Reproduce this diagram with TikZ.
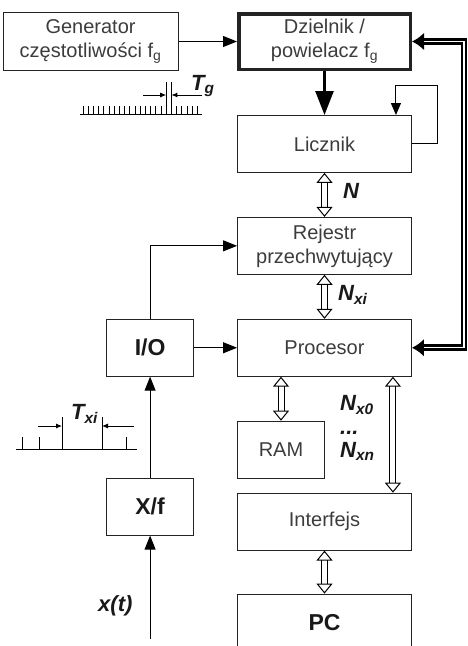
\documentclass[tikz,border=0pt]{standalone}
\usepackage{fontspec}
\setmainfont{Liberation Sans}
\usepackage{tikz}
\usetikzlibrary{arrows.meta, positioning, calc}
\usepackage{xcolor}
\definecolor{frameGray}{RGB}{35, 35, 35}
\definecolor{labelGray}{RGB}{60, 60, 60}

\begin{document}
\begin{tikzpicture}[
        x=1pt, y=-1pt,
        node distance=44pt,
        wideNode/.style={rectangle, draw=frameGray, line width=0.9pt, text=labelGray, minimum width=174pt, minimum height=57pt, inner sep=2pt, align=center, font=\fontsize{20}{24}\selectfont},
        smallNode/.style={rectangle, draw=frameGray, line width=0.9pt, text=black!90, minimum width=87pt, minimum height=57pt, inner sep=2pt, align=center, font=\fontsize{23}{27}\selectfont\bfseries},
        sigLabel/.style={inner sep=0pt, text=black!90, font=\fontsize{22}{23.5}\selectfont\bfseries\itshape},
        sigArrow/.style={line width=1pt, -{Triangle[length=14pt, width=11pt]}},
        busArrow/.style={double, double distance=5pt, line width=1pt, {Triangle[open, length=10pt, width=16pt, line width=1pt]}-{Triangle[open, length=10pt, width=16pt, line width=1pt]}},
        ctrlArrow/.style={double, double distance=1.2pt, line width=2.8pt, {Latex[length=12pt, width=18pt]}-{Latex[length=12pt, width=18pt]}},
        pulse/.style={line width=0.9pt}
    ]
    \useasboundingbox (0,0) rectangle (468,646);

    % main column
    \node[wideNode, line width=3.5pt, minimum width=171.5pt, minimum height=55.5pt] (dz) at (324.5,41.5) {Dzielnik /\\powielacz f\textsubscript{g}};
    \node[wideNode, left=58.5pt of dz, minimum width=175pt, minimum height=58pt] (gen) {Generator\\częstotliwości f\textsubscript{g}};
    \node[wideNode, below=44pt of dz] (lic) {Licznik};
    \node[wideNode, below=of lic] (rej) {Rejestr\\przechwytujący};
    \node[wideNode, below=of rej] (proc) {Procesor};
    \node[wideNode, minimum width=87pt, below right=44pt and 0pt of proc.south west] (ram) {RAM};
    \node[wideNode, below=116pt of proc] (intf) {Interfejs};
    \node[wideNode, below=43pt of intf, text=black!90, font=\fontsize{23}{27}\selectfont\bfseries] (pc) {PC};

    % input side
    \node[smallNode, left=43pt of proc] (io) {I/O};
    \node[smallNode, below=101pt of io] (xf) {X/f};
    \coordinate[below=103pt of xf.south] (xin);

    \draw[sigArrow] (gen) -- (dz);
    \draw[line width=2.5pt, -{Triangle[length=24pt, width=18pt]}] (dz) -- (lic);
    \draw[line width=1pt, -{Triangle[length=12pt, width=10pt]}] (lic.east) -| ++(26,-58) -| ([xshift=-16pt]lic.north east);
    \draw[ctrlArrow] (dz.east) -- ++(52,0) |- (proc.east);

    \draw[busArrow] (lic) -- (rej);
    \draw[busArrow] (rej) -- (proc);
    \draw[busArrow] (ram.north |- proc.south) -- (ram);
    \draw[busArrow] ([xshift=-19pt]proc.south east) -- ([xshift=-19pt]intf.north east);
    \draw[busArrow] (intf) -- (pc);

    \draw[sigArrow] (io.north) |- (rej.west);
    \draw[sigArrow] (io) -- (proc);
    \draw[sigArrow] (xf) -- (io);
    \draw[sigArrow] (xin) -- (xf);

    % labels
    \node[sigLabel, anchor=base west] (xt) at (98,611) {x(t)};
    \node[sigLabel, anchor=base west] (nLic) at (343,198) {N};
    \node[sigLabel, anchor=base west] (nRej) at (338,300) {N\textsubscript{xi}};
    \node[sigLabel, anchor=west, align=left] (nOut) at (340,428) {N\textsubscript{x0}\\...\\N\textsubscript{xn}};
    \node[sigLabel, anchor=base west] (tg) at (191,90) {T\textsubscript{g}};
    \node[sigLabel, anchor=base west] (txi) at (71,419) {T\textsubscript{xi}};

    % clock pulses
    \draw[pulse] (80,114) -- (202,114);
    \foreach \k in {0,...,22}
        \draw[pulse] (83+5.2*\k,114) -- ++(0,-8);
    \draw[pulse] (166.2,114) -- (166.2,82) (171.4,114) -- (171.4,82);
    \draw[pulse, -{Latex[length=6pt, width=5pt]}] (143,95) -- (166.2,95);
    \draw[pulse, -{Latex[length=6pt, width=5pt]}] (202,95) -- (171.4,95);

    % measured signal pulses
    \draw[pulse] (16,449) -- (137,449);
    \foreach \px in {22,39,126}
        \draw[pulse] (\px,449) -- ++(0,-12);
    \draw[pulse] (62,449) -- (62,417) (102,449) -- (102,417);
    \draw[pulse, -{Latex[length=6pt, width=5pt]}] (38,426) -- (62,426);
    \draw[pulse, -{Latex[length=6pt, width=5pt]}] (134,426) -- (102,426);
\end{tikzpicture}
\end{document}
